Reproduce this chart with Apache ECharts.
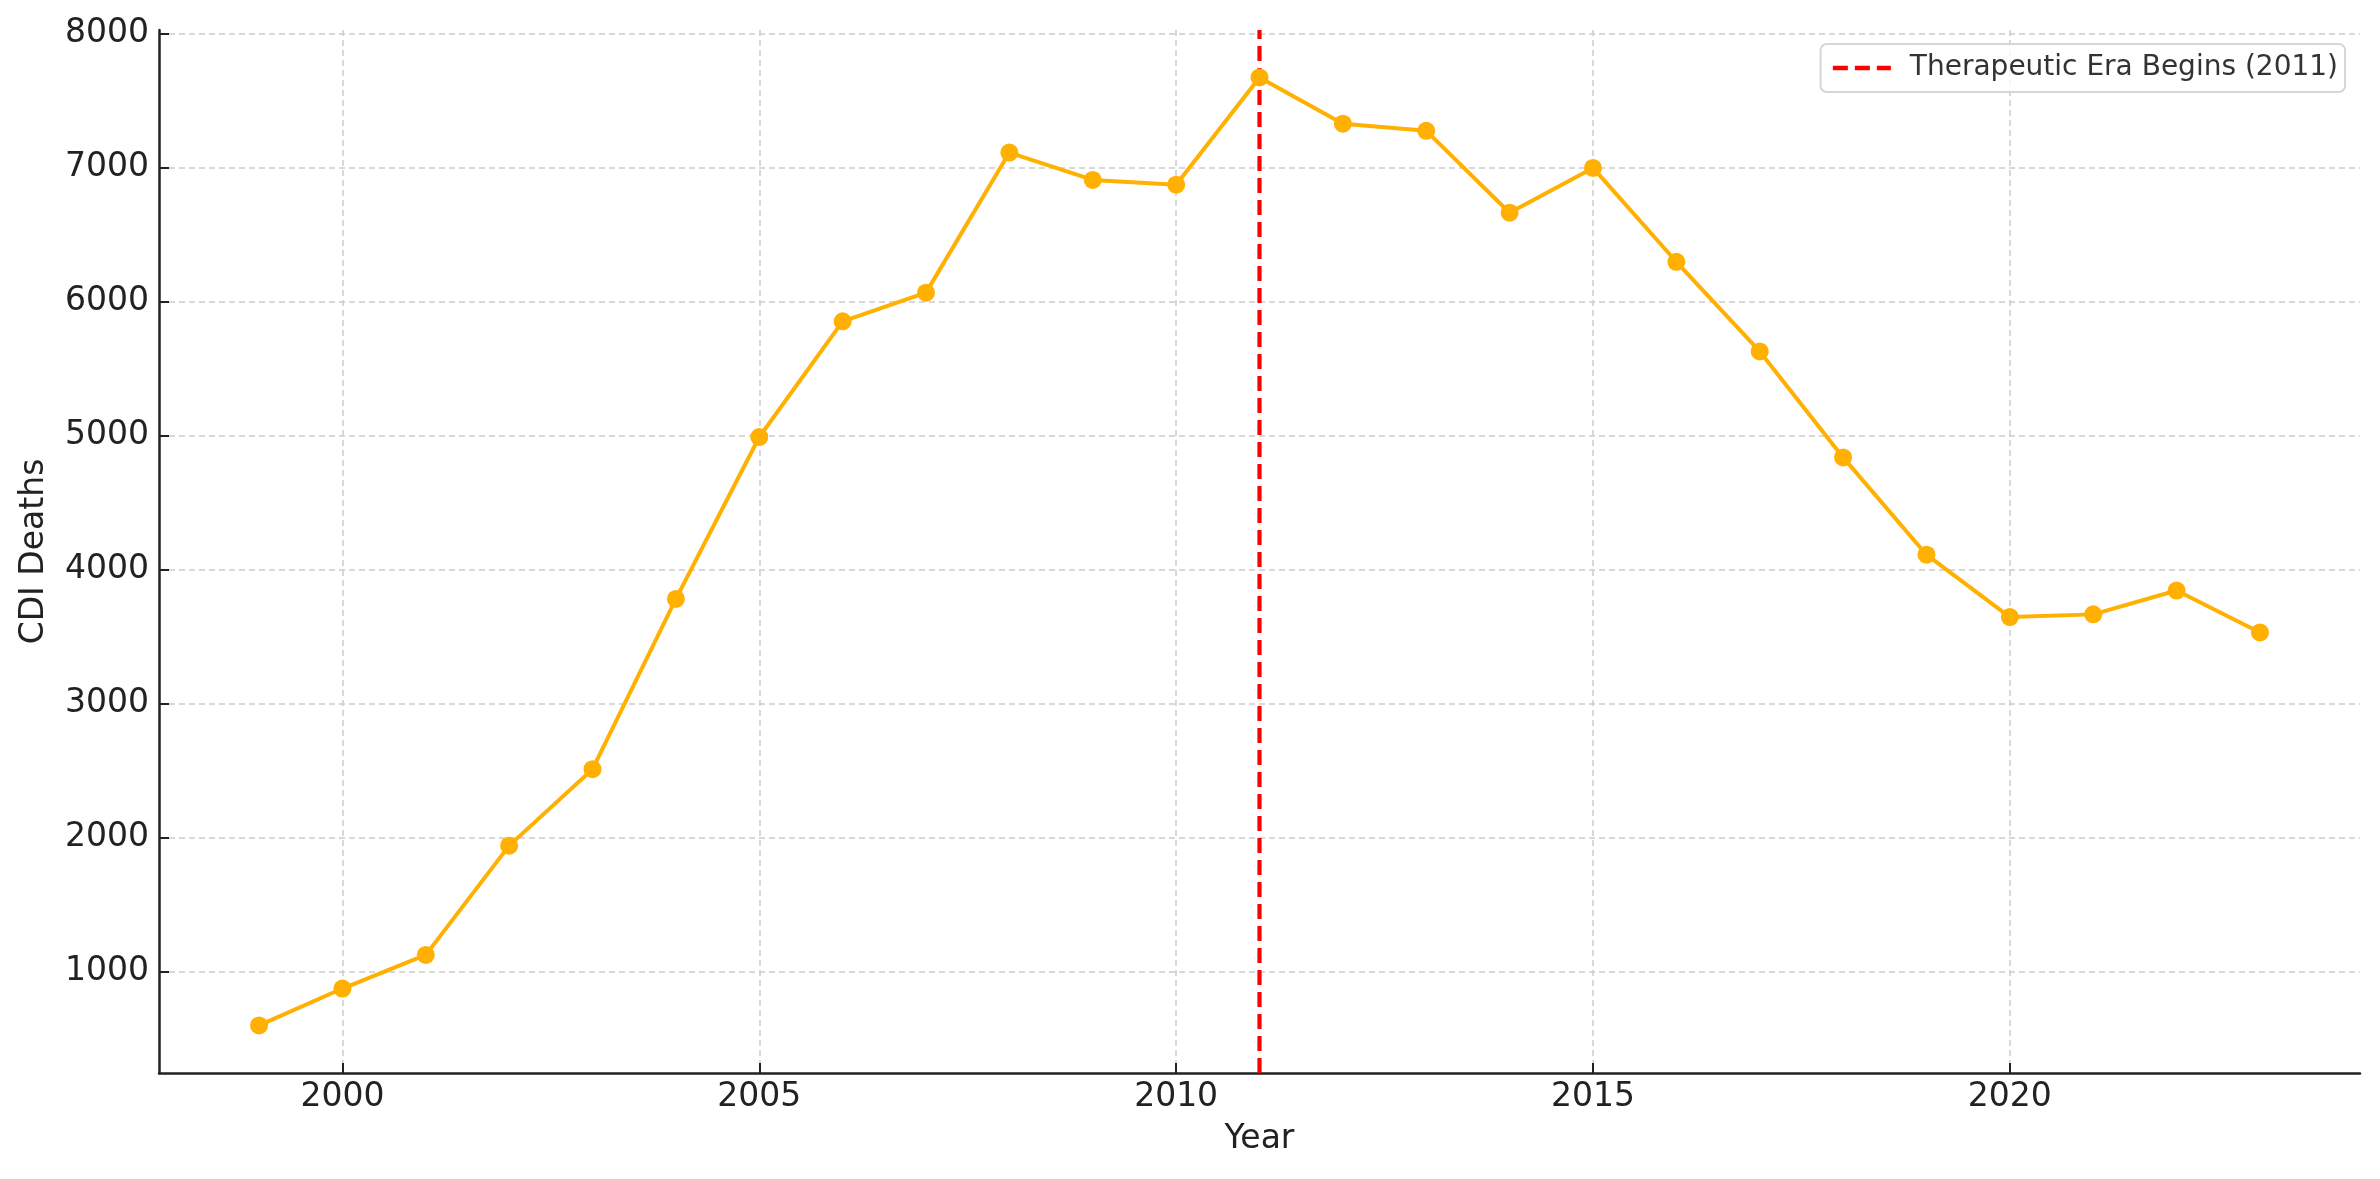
<!DOCTYPE html>
<html>
<head>
<meta charset="utf-8">
<script src="https://cdn.jsdelivr.net/npm/echarts@6/dist/echarts.min.js"></script>
<style>
html,body{margin:0;padding:0;background:#fff;}
#chart{width:2380px;height:1179px;}
</style>
</head>
<body>
<div id="chart"></div>
<script>
const years = [1999,2000,2001,2002,2003,2004,2005,2006,2007,2008,2009,2010,2011,2012,2013,2014,2015,2016,2017,2018,2019,2020,2021,2022,2023];
const cdiDeaths = [600,875,1126,1941,2511,3781,4989,5852,6066,7111,6907,6871,7671,7326,7273,6662,6996,6296,5627,4837,4111,3646,3666,3844,3531];
const xTicks = [2000,2005,2010,2015,2020];
const yTicks = [1000,2000,3000,4000,5000,6000,7000,8000];
const therapeuticYear = 2011;
const legendLabel = 'Therapeutic Era Begins (2011)';

const X_MIN = 1997.8, X_MAX = 2024.2, Y_MIN = 245, Y_MAX = 8025;
const FONT = 'DejaVu Sans';

const chart = echarts.init(document.getElementById('chart'), null, {renderer:'canvas'});
const gridLine = {show:true, lineStyle:{color:'#cccccc', width:1.5, type:[6,4]}};
chart.setOption({
  animation:false,
  backgroundColor:'#ffffff',
  grid:{left:159, right:20, top:30, bottom:106, containLabel:false},
  legend:{
    data:[legendLabel],
    right:35, top:44,
    padding:[10,7,10,10],
    itemWidth:58, itemHeight:14, itemGap:10,
    itemStyle:{opacity:0},
    lineStyle:{color:'#ff0000', width:4.5, type:[15,7]},
    backgroundColor:'rgba(255,255,255,0.8)',
    borderColor:'#d6d6d6', borderWidth:2, borderRadius:6,
    textStyle:{fontFamily:FONT, fontSize:28, color:'#333333', padding:[0,0,0,14]}
  },
  xAxis:{
    type:'value', min:X_MIN, max:X_MAX,
    name:'Year', nameLocation:'middle', nameGap:50,
    nameTextStyle:{fontFamily:FONT, fontSize:33, color:'#222'},
    axisLine:{show:true, onZero:false, lineStyle:{color:'#222', width:2.5}},
    axisTick:{show:true, inside:true, length:10, customValues:xTicks, lineStyle:{color:'#222', width:2}},
    axisLabel:{customValues:xTicks, formatter:v=>String(v), fontFamily:FONT, fontSize:33, color:'#222', margin:8},
    splitLine:gridLine
  },
  yAxis:{
    type:'value', min:Y_MIN, max:Y_MAX,
    name:'CDI Deaths', nameLocation:'middle', nameGap:108,
    nameTextStyle:{fontFamily:FONT, fontSize:33, color:'#222'},
    axisLine:{show:true, onZero:false, lineStyle:{color:'#222', width:2.5}},
    axisTick:{show:true, inside:true, length:10, customValues:yTicks, lineStyle:{color:'#222', width:2}},
    axisLabel:{customValues:yTicks, formatter:v=>String(v), fontFamily:FONT, fontSize:33, color:'#222', margin:10},
    splitLine:gridLine
  },
  series:[
    {
      name:'CDI Deaths', type:'line',
      data: years.map((y,i)=>[y, cdiDeaths[i]]),
      symbol:'circle', symbolSize:18, showSymbol:true,
      lineStyle:{color:'#FFB000', width:4},
      itemStyle:{color:'#FFB000'},
      z:3
    },
    {
      name:legendLabel, type:'line',
      data:[[therapeuticYear, Y_MIN],[therapeuticYear, Y_MAX]],
      symbol:'none', showSymbol:false,
      lineStyle:{color:'#ff0000', width:4.2, type:[15,7]},
      itemStyle:{color:'#ff0000'},
      z:2
    }
  ]
});
</script>
</body>
</html>
